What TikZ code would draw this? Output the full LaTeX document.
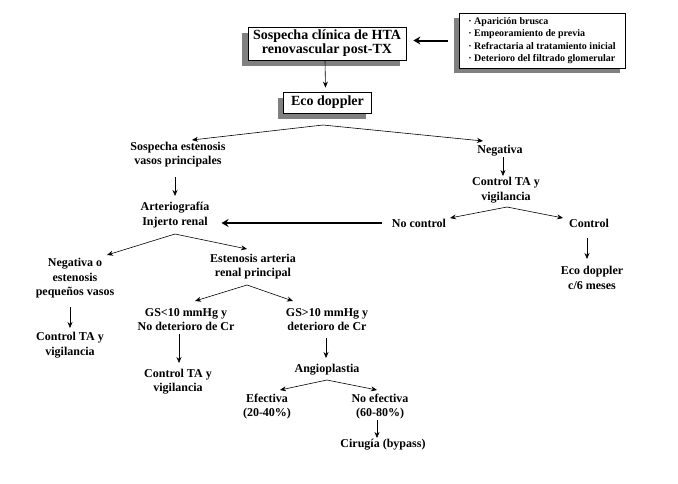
\documentclass[tikz,border=0pt]{standalone}
\usepackage{fontspec}
\setmainfont{Liberation Serif}
\usetikzlibrary{arrows.meta,shadows}
\begin{document}
\begin{tikzpicture}[x=1pt,y=-1pt,
  txt/.style={align=center,inner sep=0pt,font=\bfseries\fontsize{12}{14.5}\selectfont},
  shbox/.style={draw,line width=0.8pt,fill=white,inner sep=0pt,
    drop shadow={shadow xshift=-6pt,shadow yshift=-6pt,fill=black!50,opacity=1}},
  arr/.style={line width=0.6pt,-{Stealth[length=6pt,width=5pt]}},
  thickarr/.style={line width=2pt,-{Stealth[length=7pt,width=8pt]}},
  ln/.style={line width=0.6pt}]
\useasboundingbox (0,0) rectangle (678,483);
\fill[white] (0,0) rectangle (678,483);

% top boxes
\node[shbox,minimum width=158pt,minimum height=33pt,align=center,
  font=\bfseries\fontsize{14}{14}\selectfont] (main) at (327,43.5)
  {Sospecha clínica de HTA\\renovascular post-TX};
\node[draw,line width=0.8pt,fill=white,minimum width=166pt,minimum height=55pt,
  inner sep=0pt,align=left,font=\bfseries\fontsize{10}{12.4}\selectfont,
  drop shadow={shadow xshift=-5pt,shadow yshift=-5pt,fill=black!50,opacity=1}] (crit) at (542,40.5)
  {\textperiodcentered\ Aparición brusca\\
   \textperiodcentered\ Empeoramiento de previa\\
   \textperiodcentered\ Refractaria al tratamiento inicial\\
   \textperiodcentered\ Deterioro del filtrado glomerular};
\node[shbox,minimum width=88pt,minimum height=21pt,
  font=\bfseries\fontsize{14}{14}\selectfont] (eco) at (327.5,102.5) {Eco doppler};

\draw[thickarr] ([xshift=-11pt]crit.west) -- ([xshift=7pt]main.east |- crit.west);
\draw[arr] ([xshift=-2pt]main.south) -- ([xshift=-2pt,yshift=4pt]eco.north);

% level 2
\node[txt] (sosp) at (178,154.5) {Sospecha estenosis\\vasos principales};
\node[txt] (neg) at (500,151) {Negativa};
\coordinate (a1) at (323,125);
\coordinate (t1) at (192,140);
\coordinate (t2) at (483,141);
\draw[arr] (a1) -- (t1);
\draw[arr] (a1) -- (t2);

% right branch
\node[txt] (ctrl1) at (506,190) {Control TA y\\vigilancia};
\draw[arr] (503,157) coordinate (n0) -- (503,176) coordinate (n1);
\node[txt] (noc) at (419,223) {No control};
\node[txt] (ctl) at (589,223) {Control};
\coordinate (a2) at (507,207);
\draw[arr] (a2) -- (450,218) coordinate (t3);
\draw[arr] (a2) -- (563,218) coordinate (t4);
\node[txt] (eco6) at (592,278) {Eco doppler\\c/6 meses};
\draw[arr] (587,238) coordinate (c1) -- (587,259) coordinate (c2);

% left branch
\node[txt] (art) at (175,215) {Arteriografía\\Injerto renal};
\draw[arr] (175,177) coordinate (s0) -- (175,196) coordinate (s1);
\draw[thickarr] ([xshift=-10pt]noc.west) -- ([xshift=12pt]art.east |- noc.west);

\coordinate (a3) at (175,234);
\node[txt] (negp) at (75,278.5) {Negativa o\\estenosis\\pequeños vasos};
\node[txt] (est) at (253,266.5) {Estenosis arteria\\renal principal};
\draw[arr] (a3) -- (107,255) coordinate (t5);
\draw[arr] (a3) -- (247,249) coordinate (t6);

\node[txt] (ctrl2) at (70,345) {Control TA y\\vigilancia};
\draw[arr] (70,307) coordinate (p0) -- (70,328) coordinate (p1);

\coordinate (a4) at (247,285);
\node[txt] (gsl) at (186,319.5) {GS<10 mmHg y\\No deterioro de Cr};
\node[txt] (gsg) at (327,319.5) {GS>10 mmHg y\\deterioro de Cr};
\draw[arr] (a4) -- (195,301) coordinate (t7);
\draw[arr] (a4) -- (293,301) coordinate (t8);

\node[txt] (ctrl3) at (178,381.5) {Control TA y\\vigilancia};
\draw[arr] (179,334) coordinate (g0) -- (179,363) coordinate (g1);

\node[txt] (ang) at (327,370) {Angioplastia};
\draw[arr] (326,338) coordinate (h0) -- (326,358) coordinate (h1);

\coordinate (a5) at (327,380);
\node[txt] (efe) at (267,406.5) {Efectiva\\(20-40\%)};
\node[txt] (noefe) at (380,406.5) {No efectiva\\(60-80\%)};
\draw[arr] (a5) -- (280,390) coordinate (t9);
\draw[arr] (a5) -- (377,390) coordinate (t10);

\node[txt] (cir) at (383,445) {Cirugía (bypass)};
\draw[arr] (377,420) coordinate (k0) -- (377,438) coordinate (k1);
\end{tikzpicture}
\end{document}
